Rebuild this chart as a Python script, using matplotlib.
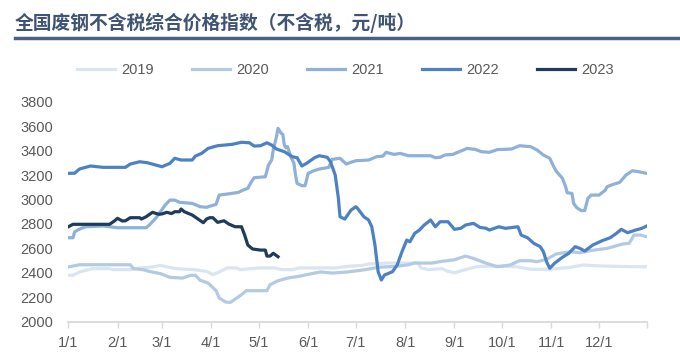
import matplotlib
matplotlib.use("Agg")
import matplotlib.pyplot as plt
from matplotlib.lines import Line2D

plt.rcParams['font.family'] = ['Liberation Sans', 'DejaVu Sans']

# 数据：天数(自1/1起) 与 指数值
d2019 = [0, 3, 7, 15, 26, 28, 39, 45, 53, 58, 62, 68, 79, 87, 91, 95, 100, 106, 108, 114, 121, 130,
         134, 141, 145, 168, 176, 185, 189, 201, 220, 222, 227, 235, 239, 243, 249, 257, 268, 282,
         291, 303, 316, 324, 335, 356, 364]
v2019 = [2380, 2380, 2407, 2434, 2434, 2426, 2426, 2440, 2448, 2461, 2448, 2434, 2426, 2412, 2385,
         2407, 2440, 2440, 2426, 2434, 2440, 2440, 2426, 2426, 2440, 2440, 2453, 2461, 2472, 2480,
         2480, 2440, 2426, 2434, 2412, 2400, 2423, 2450, 2456, 2450, 2429, 2429, 2445, 2464, 2456,
         2450, 2450]

d2020 = [0, 7, 39, 41, 47, 51, 58, 64, 72, 77, 80, 83, 88, 93, 95, 99, 102, 106, 109, 112, 121, 125,
         127, 132, 138, 145, 155, 159, 166, 176, 187, 195, 206, 214, 218, 229, 235, 243, 250, 255,
         263, 270, 278, 284, 291, 295, 301, 307, 316, 322, 328, 339, 349, 353, 356, 360, 364]
v2020 = [2448, 2466, 2466, 2434, 2426, 2412, 2393, 2363, 2357, 2380, 2380, 2339, 2317, 2254, 2194,
         2161, 2158, 2194, 2221, 2254, 2254, 2254, 2303, 2335, 2357, 2371, 2398, 2407, 2398, 2407,
         2426, 2445, 2453, 2466, 2480, 2480, 2494, 2507, 2537, 2518, 2478, 2450, 2464, 2499, 2499,
         2491, 2510, 2554, 2573, 2564, 2581, 2600, 2636, 2641, 2709, 2709, 2695]

d2021 = [0, 3, 4, 8, 11, 22, 31, 49, 51, 55, 58, 61, 64, 67, 70, 78, 83, 87, 90, 93, 95, 103, 107,
         110, 113, 115, 117, 124, 126, 128, 129, 131, 132, 134, 135, 136, 137, 138, 140, 142, 143,
         144, 147, 149, 151, 154, 158, 164, 166, 171, 175, 178, 181, 189, 194, 198, 200, 205, 209,
         214, 228, 231, 234, 237, 242, 247, 251, 256, 260, 265, 270, 279, 284, 291, 295, 299, 303,
         305, 307, 311, 313, 314, 317, 318, 320, 323, 325, 327, 329, 334, 338, 339, 343, 347, 351,
         355, 359, 364]
v2021 = [2687, 2687, 2736, 2764, 2777, 2783, 2769, 2769, 2791, 2846, 2900, 2955, 2995, 2995, 2977,
         2968, 2941, 2936, 2949, 2960, 3036, 3050, 3058, 3077, 3091, 3140, 3178, 3186, 3282, 3323,
         3405, 3513, 3582, 3541, 3533, 3445, 3423, 3432, 3350, 3296, 3200, 3132, 3113, 3113, 3214,
         3233, 3249, 3263, 3328, 3337, 3290, 3305, 3317, 3323, 3350, 3355, 3386, 3369, 3377, 3358,
         3358, 3342, 3345, 3364, 3369, 3396, 3418, 3410, 3391, 3386, 3408, 3413, 3440, 3432, 3405,
         3364, 3337, 3282, 3233, 3173, 3104, 3055, 3050, 2968, 2933, 2908, 2910, 3009, 3036, 3036,
         3077, 3104, 3124, 3140, 3200, 3235, 3227, 3214]

d2022 = [0, 4, 7, 14, 22, 36, 39, 45, 50, 55, 59, 64, 67, 71, 78, 80, 84, 88, 94, 103, 109, 114, 117,
         121, 125, 128, 131, 136, 141, 144, 147, 150, 155, 158, 163, 165, 168, 170, 171, 174, 178,
         181, 182, 186, 189, 191, 193, 195, 197, 199, 204, 207, 210, 213, 215, 218, 221, 224, 228,
         231, 234, 239, 243, 247, 250, 255, 259, 263, 265, 271, 275, 283, 285, 289, 293, 297, 299,
         301, 303, 306, 311, 315, 319, 322, 325, 330, 336, 341, 345, 348, 352, 357, 361, 364]
v2022 = [3214, 3215, 3249, 3274, 3263, 3263, 3290, 3309, 3300, 3282, 3268, 3296, 3337, 3323, 3323,
         3355, 3378, 3418, 3440, 3451, 3468, 3464, 3437, 3440, 3464, 3445, 3413, 3391, 3350, 3342,
         3274, 3296, 3342, 3358, 3345, 3309, 3200, 3009, 2859, 2840, 2914, 2941, 2928, 2859, 2832,
         2777, 2627, 2409, 2341, 2382, 2409, 2464, 2573, 2668, 2654, 2723, 2750, 2791, 2832, 2777,
         2818, 2818, 2756, 2764, 2791, 2805, 2772, 2764, 2750, 2777, 2764, 2777, 2709, 2687, 2641,
         2614, 2573, 2491, 2437, 2478, 2527, 2560, 2614, 2600, 2578, 2627, 2663, 2687, 2723, 2756,
         2728, 2750, 2764, 2783]

d2023 = [0, 3, 26, 29, 31, 34, 36, 39, 45, 46, 49, 53, 57, 59, 62, 65, 67, 70, 71, 73, 78, 81, 85,
         87, 89, 91, 94, 98, 101, 105, 109, 111, 113, 116, 121, 124, 125, 127, 129, 132]
v2023 = [2777, 2797, 2797, 2824, 2846, 2824, 2826, 2851, 2851, 2840, 2859, 2895, 2879, 2882, 2895,
         2885, 2900, 2900, 2922, 2900, 2873, 2846, 2810, 2840, 2851, 2851, 2813, 2826, 2799, 2777,
         2777, 2709, 2627, 2595, 2586, 2586, 2537, 2537, 2560, 2532]

years = ["2019", "2020", "2021", "2022", "2023"]
colors = ["#dae5f2", "#b3cae3", "#8db1d9", "#4c82c3", "#1f3b5e"]
series = [(d2019, v2019), (d2020, v2020), (d2021, v2021), (d2022, v2022), (d2023, v2023)]

month_days = [0, 31, 59, 90, 120, 151, 181, 212, 243, 273, 304, 334]
month_labels = ["1/1", "2/1", "3/1", "4/1", "5/1", "6/1", "7/1", "8/1", "9/1", "10/1", "11/1", "12/1"]

fig = plt.figure(figsize=(6.8, 3.56), dpi=100)
ax = fig.add_axes([0.1004, 0.0963, 0.8506, 0.618])

for (d, v), yr, c in zip(series, years, colors):
    ax.plot(d, v, color=c, linewidth=2.3, label=yr, solid_joinstyle='round')

ax.set_xlim(0, 364)
ax.set_ylim(2000, 3800)
ax.set_yticks(range(2000, 3801, 200))
ax.set_xticks(month_days + [364])
ax.set_xticklabels(month_labels + [""])

for s in ["top", "right", "left"]:
    ax.spines[s].set_visible(False)
ax.spines["bottom"].set_color("#d9d9d9")
ax.spines["bottom"].set_linewidth(1.3)
ax.tick_params(axis="y", length=0, pad=11, labelsize=10.5, labelcolor="#595959")
ax.tick_params(axis="x", length=4, width=1, color="#d9d9d9", pad=6, labelsize=10.5,
               labelcolor="#595959")

fig.legend(loc="center", bbox_to_anchor=(0.508, 0.803), ncol=5, frameon=False,
           fontsize=10.5, handlelength=2.6, columnspacing=2.6, handletextpad=0.45,
           labelcolor="#595959")

fig.text(0.022, 0.935, "全国废钢不含税综合价格指数（不含税，元/吨）", fontsize=13.5,
         fontweight="bold", color="#3f5373", va="center", ha="left",
         family=["Noto Sans CJK SC", "DejaVu Sans"])
fig.add_artist(Line2D([0.022, 1.0], [0.893, 0.893], transform=fig.transFigure,
                      color="#4a6184", linewidth=2.5))

fig.savefig("out.png", dpi=100)
